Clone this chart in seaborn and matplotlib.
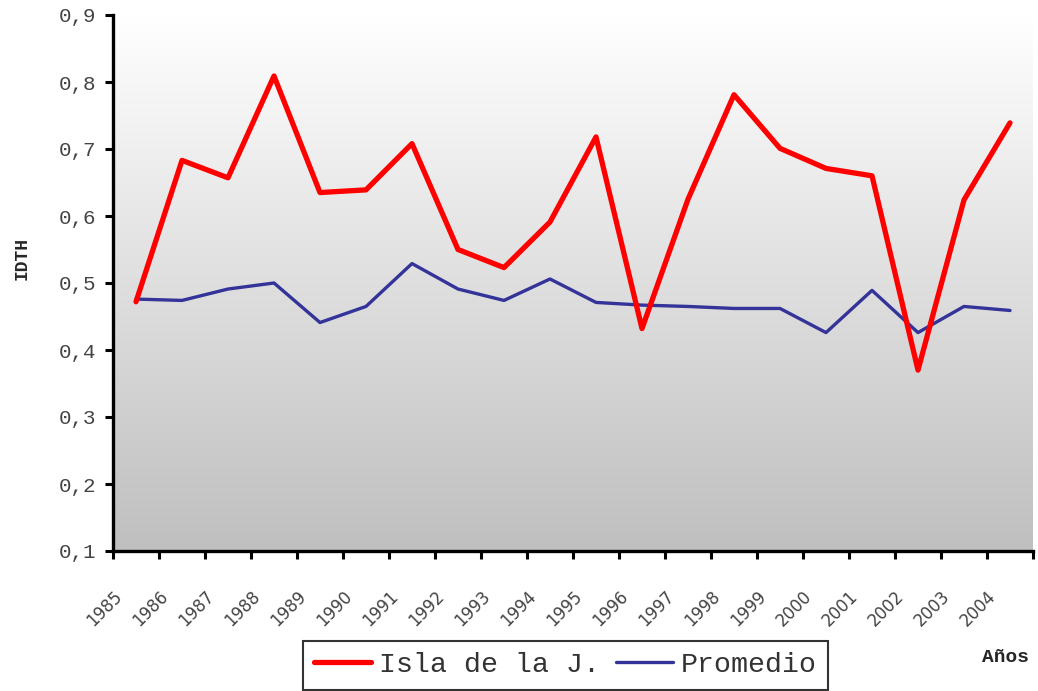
import numpy as np
import pandas as pd
import matplotlib
matplotlib.use('Agg')
import matplotlib.pyplot as plt
from matplotlib.colors import LinearSegmentedColormap
from matplotlib.ticker import FuncFormatter
import seaborn as sns

# values
years = [1985, 1986, 1987, 1988, 1989, 1990, 1991, 1992, 1993, 1994,
         1995, 1996, 1997, 1998, 1999, 2000, 2001, 2002, 2003, 2004]
isla = [0.472, 0.683, 0.657, 0.809, 0.635, 0.639, 0.708, 0.550, 0.523, 0.591,
        0.718, 0.432, 0.625, 0.781, 0.701, 0.671, 0.660, 0.370, 0.624, 0.739]
promedio = [0.476, 0.474, 0.491, 0.500, 0.441, 0.465, 0.529, 0.491, 0.474, 0.506,
            0.471, 0.467, 0.465, 0.462, 0.462, 0.426, 0.489, 0.426, 0.465, 0.459]
y_ticks = [0.1, 0.2, 0.3, 0.4, 0.5, 0.6, 0.7, 0.8, 0.9]

df = pd.DataFrame({'year': years, 'Isla de la J.': isla, 'Promedio': promedio})

sns.set_style('white')
plt.rcParams['font.family'] = ['Liberation Mono', 'DejaVu Sans']

fig = plt.figure(figsize=(10.38, 6.91), dpi=100)
ax = fig.add_axes([113/1038, 1-551/691, 920/1038, 536/691])

# gradient background, white at top to grey at bottom
cmap = LinearSegmentedColormap.from_list('bg', ['#ffffff', '#bfbfbf'])
ax.imshow(np.linspace(0, 1, 256).reshape(-1, 1), cmap=cmap, aspect='auto',
          extent=[0, 1, 0, 1], transform=ax.transAxes, zorder=0)

sns.lineplot(data=df, x='year', y='Isla de la J.', ax=ax, color='#ff0000',
             linewidth=3.8, label='Isla de la J.', zorder=3)
sns.lineplot(data=df, x='year', y='Promedio', ax=ax, color='#333399',
             linewidth=2.4, label='Promedio', zorder=2)

ax.set_xlim(years[0] - 0.5, years[-1] + 0.5)
ax.set_ylim(0.1, 0.9)
ax.set_yticks(y_ticks)
ax.yaxis.set_major_formatter(FuncFormatter(lambda v, p: ('%.1f' % v).replace('.', ',')))
for lab in ax.get_yticklabels():
    lab.set_fontsize(15)
    lab.set_color('#444444')

xt = [y - 0.5 for y in years] + [years[-1] + 0.5]
ax.set_xticks(xt)
ax.set_xticklabels([str(y) for y in years] + [''], rotation=45, ha='right',
                   rotation_mode='anchor', fontsize=12, family='DejaVu Sans', color='#444444')

ax.tick_params(axis='both', direction='out', length=6, width=2.2, color='black',
               bottom=True, left=True)
ax.tick_params(axis='y', pad=6)
ax.tick_params(axis='x', pad=20)

for s in ['top', 'right']:
    ax.spines[s].set_visible(False)
for s in ['left', 'bottom']:
    ax.spines[s].set_linewidth(2.4)
    ax.spines[s].set_color('black')

ax.set_xlabel('')
ax.set_ylabel('')
ax.get_legend().remove()

fig.text(22/1038, 1-258/691, 'IDTH', rotation=90, fontsize=13, fontweight='bold',
         ha='center', va='center')
fig.text(1006/1038, 1-657/691, 'Años', fontsize=14, fontweight='bold',
         ha='center', va='center')

handles, labels = ax.get_legend_handles_labels()
leg = fig.legend(handles, labels, loc='upper left', bbox_to_anchor=(303/1038, 1-641/691),
                 ncol=2, fontsize=20.3, frameon=True, fancybox=False, edgecolor='black',
                 handlelength=2.0, handletextpad=0.28, columnspacing=0.6,
                 borderpad=0.4, borderaxespad=0)
leg.get_frame().set_linewidth(1.5)
leg.get_frame().set_facecolor('white')
for t in leg.get_texts():
    t.set_color('#333333')

fig.savefig('out.png', dpi=100)
